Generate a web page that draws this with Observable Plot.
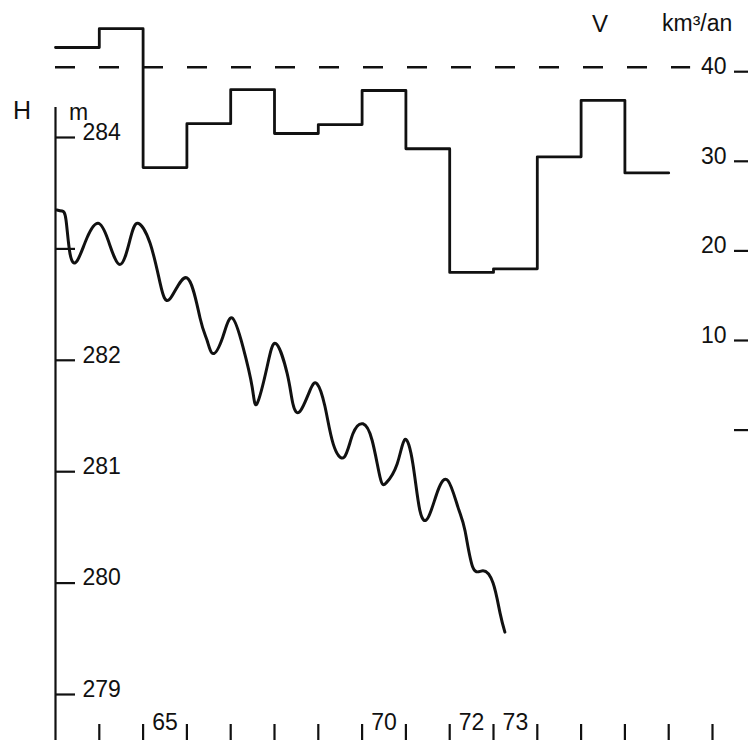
<!DOCTYPE html>
<html><head><meta charset="utf-8">
<script src="https://cdn.jsdelivr.net/npm/d3@7"></script>
<script src="https://cdn.jsdelivr.net/npm/@observablehq/plot@0.6"></script>
<style>
html,body{margin:0;padding:0;background:#fff;overflow:hidden}
#chart{position:relative;width:748px;height:740px;font-family:"Liberation Sans",Arial,sans-serif;color:#111}
#chart svg{position:absolute;left:0;top:0}
.lbl{position:absolute;white-space:nowrap;line-height:1;color:#111}
</style></head><body>
<div id="chart">
  <div class="lbl" style="left:13px;top:98px;font-size:25px">H</div>
  <div class="lbl" style="left:69px;top:101px;font-size:23px">m</div>
  <div class="lbl" style="left:592px;top:12px;font-size:24px">V</div>
  <div class="lbl" style="left:662px;top:12px;font-size:23px">km³/an</div>
</div>
<script>
// ---- data ----
// annual discharge V (km³/an), step per year
const vYears  = [63, 64, 65, 66, 67, 68, 69, 70, 71, 72, 73, 74, 75, 76];
const vValues = [42.7, 44.8, 29.3, 34.2, 38.0, 33.1, 34.1, 37.9, 31.4, 17.6, 18.0, 30.5, 36.8, 28.7];
const vEndYear = 77;
const vReference = 40.5;
const vReferenceSpan = [63, 77.5];
// lake level H (m)
const hYears  = [63.03, 63.15, 63.24, 63.33, 63.49, 63.72, 63.97, 64.20, 64.47, 64.70, 64.88, 65.16, 65.39, 65.61, 66.00, 66.30, 66.46, 66.60, 66.82, 67.03, 67.28, 67.49, 67.60, 67.83, 68.03, 68.29, 68.42, 68.58, 68.81, 68.97, 69.15, 69.34, 69.59, 69.79, 70.02, 70.23, 70.41, 70.55, 70.80, 70.98, 71.16, 71.32, 71.51, 71.73, 71.96, 72.19, 72.35, 72.53, 72.76, 72.99, 73.15, 73.26];
const hLevels = [283.35, 283.34, 283.26, 282.96, 282.89, 283.10, 283.23, 283.08, 282.86, 283.08, 283.23, 283.05, 282.69, 282.55, 282.74, 282.38, 282.18, 282.06, 282.21, 282.38, 282.12, 281.76, 281.61, 281.94, 282.15, 281.88, 281.61, 281.54, 281.73, 281.79, 281.59, 281.25, 281.13, 281.34, 281.43, 281.28, 280.95, 280.90, 281.07, 281.29, 281.07, 280.65, 280.59, 280.83, 280.92, 280.68, 280.47, 280.14, 280.11, 280.00, 279.73, 279.56];
// axes
const hTicks = [279, 280, 281, 282, 283, 284];
const hTickLabels = ["279", "280", "281", "282", "", "284"];
const vTicks = [0, 10, 20, 30, 40];
const vTickLabels = ["", "10", "20", "30", "40"];
const yearTicks = [64, 65, 66, 67, 68, 69, 70, 71, 72, 73, 74, 75, 76, 77, 78];
const yearLabelYears = [65, 70, 72, 73];
const yearLabels = ["65", "70", "72", "73"];

// ---- tables ----
const hData = hYears.map((year, i) => ({year, h: hLevels[i]}));
const vStep = vYears.map((year, i) => ({year, v: vValues[i]}));
vStep.push({year: vEndYear, v: vValues[vValues.length - 1]});

const ink = "#111";
const font = '"Liberation Sans", Arial, sans-serif';
const xDomain = [63, 78];
const xScale = {domain: xDomain, range: [55, 712]};

const plotH = Plot.plot({
  width: 748, height: 740,
  marginLeft: 55, marginRight: 0, marginTop: 107, marginBottom: 0,
  style: {background: "transparent", fontFamily: font, color: ink},
  x: xScale,
  y: {domain: [279, 284], range: [694, 137]},
  marks: [
    Plot.ruleX([xDomain[0]], {stroke: ink, strokeWidth: 2.2}),
    Plot.axisY(hTicks, {anchor: "left", tickSize: -20, tickFormat: () => "", strokeWidth: 2.2, stroke: ink, label: null}),
    Plot.text(hTicks, {y: d => d, text: (d, i) => hTickLabels[i], frameAnchor: "left", dx: 27, dy: -5, textAnchor: "start", fontSize: 23, fill: ink}),
    Plot.axisX(yearTicks, {anchor: "bottom", tickSize: -16, tickFormat: () => "", strokeWidth: 2.2, stroke: ink, label: null}),
    Plot.text(yearLabelYears, {x: d => d + 0.5, text: (d, i) => yearLabels[i], frameAnchor: "bottom", dy: -11, fontSize: 23, fill: ink}),
    Plot.line(hData, {x: "year", y: "h", curve: "natural", stroke: ink, strokeWidth: 3})
  ]
});

const plotV = Plot.plot({
  width: 748, height: 740,
  marginLeft: 55, marginRight: 0, marginTop: 71, marginBottom: 310,
  style: {background: "transparent", fontFamily: font, color: ink},
  x: {...xScale, axis: null},
  y: {domain: [0, 40], range: [429.6, 71.2]},
  marks: [
    Plot.ruleY([vReference], {x1: vReferenceSpan[0], x2: vReferenceSpan[1], stroke: ink, strokeWidth: 2.6, strokeDasharray: "20,24"}),
    Plot.line(vStep, {x: "year", y: "v", curve: "step-after", stroke: ink, strokeWidth: 2.8}),
    Plot.axisY(vTicks, {anchor: "right", tickSize: -15, tickFormat: () => "", strokeWidth: 2.2, stroke: ink, label: null}),
    Plot.text(vTicks, {y: d => d, text: (d, i) => vTickLabels[i], frameAnchor: "right", dx: -22, dy: -5, textAnchor: "end", fontSize: 23, fill: ink})
  ]
});

const chart = document.getElementById("chart");
chart.appendChild(plotV);
chart.appendChild(plotH);
</script>
</body></html>
